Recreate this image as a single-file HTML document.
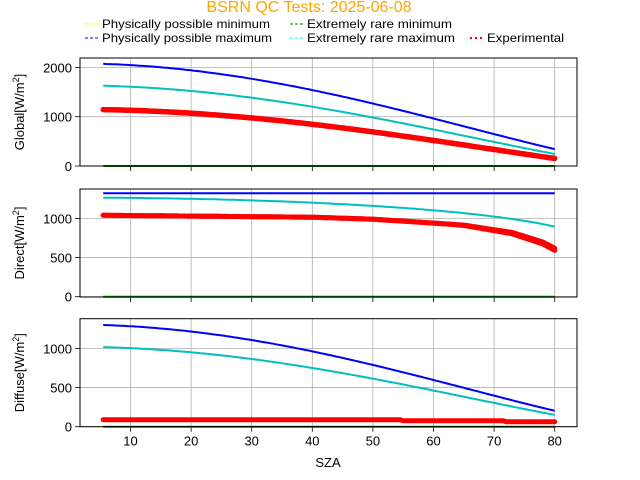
<!DOCTYPE html>
<html><head><meta charset="utf-8"><style>
html,body{margin:0;padding:0;background:#fff;}
svg{display:block;font-family:"Liberation Sans","DejaVu Sans",sans-serif;}
</style></head><body>
<svg id="s" width="640" height="480" viewBox="0 0 640 480" xmlns="http://www.w3.org/2000/svg">
<text x="309" y="12" text-anchor="middle" font-size="16" fill="#ffa500">BSRN QC Tests: 2025-06-08</text>
<g font-size="12" fill="#000">
<line x1="85" y1="24" x2="100" y2="24" stroke="#ffff00" stroke-dasharray="3,2"/>
<text x="102" y="28" textLength="168" lengthAdjust="spacingAndGlyphs">Physically possible minimum</text>
<line x1="85" y1="38" x2="100" y2="38" stroke="#0000ff" stroke-dasharray="3,2"/>
<text x="102" y="42" textLength="170" lengthAdjust="spacingAndGlyphs">Physically possible maximum</text>
<line x1="290" y1="24" x2="305" y2="24" stroke="#008000" stroke-dasharray="3,2"/>
<text x="307" y="28" textLength="145" lengthAdjust="spacingAndGlyphs">Extremely rare minimum</text>
<line x1="290" y1="38" x2="305" y2="38" stroke="#00ffff" stroke-dasharray="3,2"/>
<text x="307" y="42" textLength="148" lengthAdjust="spacingAndGlyphs">Extremely rare maximum</text>
<line x1="470" y1="38" x2="482" y2="38" stroke="#ff0000" stroke-width="2" stroke-dasharray="2,3"/>
<text x="487" y="42" textLength="77" lengthAdjust="spacingAndGlyphs">Experimental</text>
</g>
<g id="plots"></g>
<text x="328" y="467" text-anchor="middle" font-size="13">SZA</text>
</svg>
<script>
var S0=1322, X=function(v){return 130.5+(v-10)*6.06;};
var R=577;
var panels=[
 {top:58,bot:166,zero:166,k:0.0493,ticks:[0,1000,2000],label:"Global",
  phys:function(c){return 1.5*S0*Math.pow(c,1.2)+100;},
  rare:function(c){return 1.2*S0*Math.pow(c,1.2)+50;},
  exp:function(z,c){return 1150*Math.pow(c,1.15);},w:5.5},
 {top:189,bot:297,zero:296.7,k:0.0783,ticks:[0,500,1000],label:"Direct",
  phys:function(c){return S0;},
  rare:function(c){return 0.95*S0*Math.pow(c,0.2)+10;},
  exp:function(z){var p=[[5.5,1040],[40,1015],[50,990],[55,965],[65,915],[73,820],[78,700],[80,620]];
    for(var i=1;i<p.length;i++){if(z<=p[i][0]){var t=(z-p[i-1][0])/(p[i][0]-p[i-1][0]);return p[i-1][1]+t*(p[i][1]-p[i-1][1]);}}return 620;},w:5},
 {top:318.7,bot:426.7,zero:426.7,k:0.0783,ticks:[0,500,1000],label:"Diffuse",
  phys:function(c){return 0.95*S0*Math.pow(c,1.2)+50;},
  rare:function(c){return 0.75*S0*Math.pow(c,1.2)+30;},
  exp:function(z){return z<55?90:(z<72?75:62);},w:5}
];
var h="";
panels.forEach(function(P,pi){
 var Y=function(v){return P.zero-v*P.k;};
 for(var t=10;t<=80;t+=10){var x=X(t);h+='<line x1="'+x+'" y1="'+P.top+'" x2="'+x+'" y2="'+P.bot+'" stroke="#b0b0b0" stroke-width="0.8"/>';
  h+='<line x1="'+x+'" y1="'+P.bot+'" x2="'+x+'" y2="'+(P.bot+5)+'" stroke="#000" stroke-width="0.8"/>';
  if(pi==2)h+='<text x="'+x+'" y="'+(P.bot+19)+'" text-anchor="middle" font-size="13">'+t+'</text>';}
 P.ticks.forEach(function(v){var y=Y(v);h+='<line x1="80" y1="'+y+'" x2="'+R+'" y2="'+y+'" stroke="#b0b0b0" stroke-width="0.8"/>';
  h+='<line x1="75" y1="'+y+'" x2="80" y2="'+y+'" stroke="#000" stroke-width="0.8"/>';
  h+='<text x="72" y="'+(y+5)+'" text-anchor="end" font-size="13">'+v+'</text>';});
 function path(f){var d="";for(var z=5.5;z<=80.001;z+=0.5){var c=Math.cos(z*Math.PI/180);d+=(d?"L":"M")+X(z).toFixed(1)+","+Y(f(z,c)).toFixed(1);}return d;}
 h+='<path d="'+path(function(){return 0;})+'" stroke="#008000" stroke-width="2" fill="none"/>';
 h+='<path d="'+path(function(z,c){return P.exp(z,c);})+'" stroke="#ff0000" stroke-width="'+P.w+'" fill="none" stroke-linecap="round"/>';
 if(pi==1){h+='<path d="'+path(function(z,c){return z<62?P.exp(z,c):P.exp(z,c)-(z-62)*1.6;})+'" stroke="#ff0000" stroke-width="5" fill="none" stroke-linecap="round"/>';}
 h+='<path d="'+path(function(z,c){return P.rare(c);})+'" stroke="#00bfbf" stroke-width="2" fill="none"/>';
 h+='<path d="'+path(function(z,c){return P.phys(c);})+'" stroke="#0000ff" stroke-width="2" fill="none"/>';
 h+='<rect x="80" y="'+P.top+'" width="'+(R-80)+'" height="'+(P.bot-P.top)+'" fill="none" stroke="#000" stroke-width="1"/>';
 var cy=(P.top+P.bot)/2;
 h+='<text transform="translate(24,'+cy+') rotate(-90)" text-anchor="middle" font-size="13">'+P.label+'[W/m<tspan font-size="9" dy="-5">2</tspan><tspan dy="5">]</tspan></text>';
});
document.getElementById("plots").innerHTML=h;
</script>
</body></html>
